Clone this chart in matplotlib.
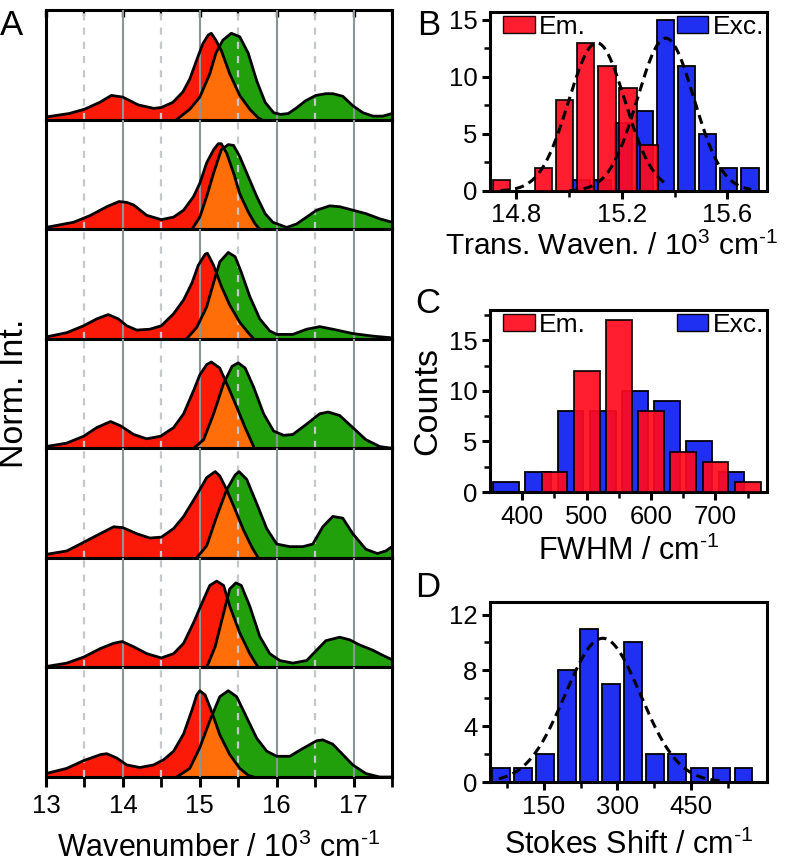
import numpy as np
import matplotlib
matplotlib.use("Agg")
import matplotlib.pyplot as plt
from matplotlib.patches import Polygon, Patch
from matplotlib.ticker import MultipleLocator, FixedLocator

plt.rcParams['font.family'] = ['Liberation Sans', 'DejaVu Sans']
plt.rcParams['mathtext.fontset'] = 'custom'
plt.rcParams['mathtext.rm'] = 'Liberation Sans'
plt.rcParams['mathtext.it'] = 'Liberation Sans:italic'

# ---- panel A: emission (red) and excitation (green) spectra, 7 molecules ----
em_x = [
    [13.0, 13.3, 13.5, 13.7, 13.85, 14.0, 14.2, 14.4, 14.5, 14.65, 14.78, 14.87, 14.96, 15.04, 15.11, 15.15, 15.21, 15.28, 15.39, 15.52, 15.65, 15.76, 15.8],
    [13.0, 13.36, 13.58, 13.79, 13.95, 14.05, 14.14, 14.31, 14.5, 14.66, 14.79, 14.92, 15.0, 15.09, 15.18, 15.24, 15.28, 15.35, 15.44, 15.52, 15.63, 15.72, 15.78],
    [13.0, 13.27, 13.49, 13.66, 13.81, 13.94, 14.05, 14.18, 14.35, 14.5, 14.66, 14.79, 14.9, 14.98, 15.07, 15.1, 15.18, 15.28, 15.39, 15.52, 15.63, 15.7],
    [13.0, 13.27, 13.49, 13.66, 13.84, 13.97, 14.14, 14.31, 14.49, 14.66, 14.79, 14.92, 15.0, 15.09, 15.15, 15.26, 15.37, 15.48, 15.59, 15.7],
    [13.0, 13.27, 13.49, 13.66, 13.88, 14.0, 14.18, 14.35, 14.5, 14.66, 14.79, 14.92, 15.0, 15.09, 15.2, 15.26, 15.35, 15.46, 15.57, 15.68, 15.76],
    [13.0, 13.27, 13.49, 13.71, 13.88, 13.99, 14.14, 14.31, 14.5, 14.66, 14.79, 14.92, 15.05, 15.13, 15.22, 15.31, 15.39, 15.52, 15.65, 15.76],
    [13.0, 13.27, 13.49, 13.71, 13.79, 13.92, 14.05, 14.22, 14.4, 14.53, 14.66, 14.79, 14.9, 14.96, 15.0, 15.07, 15.15, 15.26, 15.39, 15.52, 15.63, 15.7],
]
em_y = [
    [0.03, 0.07, 0.12, 0.2, 0.28, 0.26, 0.17, 0.13, 0.14, 0.2, 0.32, 0.47, 0.69, 0.88, 0.98, 1.0, 0.92, 0.8, 0.53, 0.28, 0.12, 0.02, 0.0],
    [0.02, 0.08, 0.16, 0.26, 0.32, 0.31, 0.28, 0.16, 0.11, 0.14, 0.22, 0.38, 0.53, 0.77, 0.92, 0.99, 0.99, 0.88, 0.65, 0.41, 0.2, 0.06, 0.0],
    [0.02, 0.07, 0.15, 0.23, 0.28, 0.23, 0.15, 0.1, 0.11, 0.15, 0.29, 0.45, 0.65, 0.85, 0.98, 0.99, 0.85, 0.61, 0.39, 0.19, 0.07, 0.0],
    [0.02, 0.06, 0.14, 0.24, 0.31, 0.26, 0.16, 0.11, 0.14, 0.24, 0.4, 0.67, 0.85, 0.97, 1.0, 0.93, 0.71, 0.48, 0.24, 0.02],
    [0.04, 0.08, 0.18, 0.26, 0.36, 0.35, 0.28, 0.23, 0.24, 0.34, 0.48, 0.67, 0.79, 0.93, 1.0, 0.95, 0.79, 0.56, 0.32, 0.12, 0.0],
    [0.01, 0.05, 0.12, 0.22, 0.28, 0.3, 0.24, 0.16, 0.11, 0.16, 0.28, 0.52, 0.79, 0.95, 1.0, 0.95, 0.71, 0.4, 0.16, 0.0],
    [0.04, 0.1, 0.19, 0.26, 0.27, 0.22, 0.14, 0.11, 0.14, 0.2, 0.3, 0.5, 0.78, 0.95, 1.0, 0.95, 0.77, 0.49, 0.26, 0.1, 0.02, 0.0],
]
ex_x = [
    [14.7, 14.87, 15.0, 15.13, 15.21, 15.3, 15.41, 15.52, 15.63, 15.74, 15.85, 15.96, 16.05, 16.15, 16.25, 16.38, 16.51, 16.64, 16.73, 16.86, 16.99, 17.12, 17.25, 17.38, 17.5],
    [14.9, 15.0, 15.09, 15.18, 15.28, 15.37, 15.44, 15.52, 15.63, 15.74, 15.85, 15.95, 16.13, 16.26, 16.39, 16.52, 16.69, 16.82, 16.99, 17.16, 17.34, 17.5],
    [14.83, 14.96, 15.09, 15.18, 15.26, 15.37, 15.46, 15.54, 15.65, 15.78, 15.91, 16.0, 16.21, 16.39, 16.56, 16.73, 16.99, 17.25, 17.5],
    [14.92, 15.05, 15.18, 15.31, 15.42, 15.5, 15.59, 15.7, 15.83, 15.96, 16.09, 16.21, 16.39, 16.56, 16.67, 16.82, 16.99, 17.16, 17.34, 17.5],
    [14.96, 15.09, 15.22, 15.35, 15.46, 15.51, 15.61, 15.74, 15.87, 16.0, 16.17, 16.34, 16.47, 16.6, 16.73, 16.86, 16.99, 17.16, 17.31, 17.42, 17.5],
    [15.09, 15.2, 15.31, 15.39, 15.47, 15.54, 15.65, 15.78, 15.91, 16.04, 16.21, 16.39, 16.52, 16.64, 16.82, 16.95, 17.08, 17.25, 17.38, 17.5],
    [14.7, 14.87, 15.0, 15.13, 15.26, 15.37, 15.48, 15.61, 15.74, 15.87, 16.0, 16.17, 16.34, 16.52, 16.6, 16.73, 16.86, 16.99, 17.16, 17.34, 17.5],
]
ex_y = [
    [0.0, 0.12, 0.26, 0.53, 0.77, 0.92, 1.0, 0.96, 0.77, 0.45, 0.2, 0.08, 0.06, 0.07, 0.13, 0.22, 0.28, 0.3, 0.3, 0.27, 0.16, 0.08, 0.04, 0.04, 0.07],
    [0.0, 0.14, 0.38, 0.65, 0.92, 0.98, 0.97, 0.84, 0.61, 0.38, 0.18, 0.08, 0.02, 0.06, 0.14, 0.22, 0.27, 0.26, 0.22, 0.18, 0.12, 0.08],
    [0.0, 0.13, 0.37, 0.65, 0.89, 1.0, 0.95, 0.77, 0.49, 0.23, 0.09, 0.05, 0.05, 0.11, 0.14, 0.11, 0.06, 0.03, 0.01],
    [0.0, 0.1, 0.4, 0.75, 0.95, 0.99, 0.93, 0.71, 0.4, 0.2, 0.15, 0.16, 0.28, 0.4, 0.42, 0.38, 0.24, 0.1, 0.02, 0.0],
    [0.0, 0.14, 0.48, 0.79, 0.96, 1.0, 0.91, 0.63, 0.34, 0.16, 0.13, 0.13, 0.16, 0.36, 0.48, 0.46, 0.28, 0.1, 0.05, 0.08, 0.13],
    [0.0, 0.24, 0.63, 0.91, 0.98, 0.95, 0.71, 0.36, 0.16, 0.08, 0.05, 0.08, 0.2, 0.31, 0.35, 0.32, 0.26, 0.2, 0.14, 0.09],
    [0.0, 0.1, 0.34, 0.65, 0.93, 1.0, 0.93, 0.69, 0.45, 0.3, 0.24, 0.24, 0.33, 0.42, 0.43, 0.38, 0.26, 0.14, 0.04, 0.0, 0.0],
]

# ---- panel B: transition wavenumber histograms (10^3 cm-1) ----
b_em_centers = [14.743, 14.823, 14.903, 14.983, 15.063, 15.143, 15.223, 15.303]
b_em_counts = [1, 0, 2, 8, 13, 11, 9, 4]
b_ex_centers = [15.045, 15.125, 15.205, 15.285, 15.365, 15.445, 15.525, 15.605, 15.685]
b_ex_counts = [1, 1, 6, 7, 15, 11, 5, 2, 2]
b_em_fit = (13.0, 15.105, 0.107)   # amplitude, centre, sigma
b_ex_fit = (13.4, 15.366, 0.107)
b_em_fit_range = (14.74, 15.37)
b_ex_fit_range = (15.0, 15.69)

# ---- panel C: FWHM histograms (cm-1) ----
c_em_centers = [450, 500, 550, 600, 650, 700, 750]
c_em_counts = [2, 12, 17, 8, 4, 3, 1]
c_ex_centers = [375, 425, 475, 525, 575, 625, 675, 725]
c_ex_counts = [1, 2, 8, 8, 10, 9, 5, 2]

# ---- panel D: Stokes shift histogram (cm-1) ----
d_centers = [62, 107, 152, 197, 242, 287, 332, 377, 422, 467, 512, 557]
d_counts = [1, 1, 2, 8, 11, 7, 10, 2, 2, 1, 1, 1]
d_fit = (10.3, 270, 77)
d_fit_range = (58, 515)

RED = '#fb1a08'
GREEN = '#22a00c'
ORANGE = '#ff6e08'
BAR_RED = '#ff0a1e'
BAR_BLUE = '#1f30f2'
RED_ALPHA = 0.92
TICK_FS = 18.5
LABEL_FS = 22
YLABEL_FS = 24.5
HY = '\u2010'  # short hyphen used as the minus in the unit exponents

W, H = 793, 868
fig = plt.figure(figsize=(W / 100, H / 100), dpi=100)


def rect(x0, y0, x1, y1):
    # pixel box (top-left origin) -> figure fraction
    return [x0 / W, 1 - y1 / H, (x1 - x0) / W, (y1 - y0) / H]


# panel A
a_top, a_bot = 10, 777
ph = (a_bot - a_top) / 7
axes_a = []
for i in range(7):
    ax = fig.add_axes(rect(46, a_top + i * ph, 392, a_top + (i + 1) * ph))
    axes_a.append(ax)
    xe, ye = np.array(em_x[i]), np.array(em_y[i])
    xg, yg = np.array(ex_x[i]), np.array(ex_y[i])
    ax.fill_between(xe, ye, 0, color=RED, lw=0, zorder=1)
    ax.fill_between(xg, yg, 0, color=GREEN, lw=0, zorder=1)
    # overlap region: emission area clipped by excitation area
    clip = Polygon(np.column_stack([np.r_[xg[0], xg, xg[-1]], np.r_[0, yg, 0]]),
                   closed=True, transform=ax.transData)
    ov = ax.fill_between(xe, ye, 0, color=ORANGE, lw=0, zorder=2)
    ov.set_clip_path(clip)
    for v in [14, 15, 16, 17]:
        ax.axvline(v, color='#8c9595', lw=1.5, zorder=3)
    for v in [13.5, 14.5, 15.5, 16.5]:
        ax.axvline(v, color='#c4c8cc', lw=1.6, ls=(0, (3.2, 3.2)), zorder=3)
    ax.plot(xe, ye, color='k', lw=2.0, zorder=4, solid_joinstyle='round')
    ax.plot(xg, yg, color='k', lw=2.0, zorder=4, solid_joinstyle='round')
    ax.set_xlim(13, 17.5)
    ax.set_ylim(0, 1.27)
    ax.set_yticks([])
    ax.xaxis.set_major_locator(MultipleLocator(1))
    ax.xaxis.set_minor_locator(MultipleLocator(0.5))
    for s in ax.spines.values():
        s.set_linewidth(2.2)
    if i == 0:
        ax.tick_params(axis='x', which='both', direction='in', top=True, bottom=False,
                       labelbottom=False)
        ax.tick_params(axis='x', which='major', length=5, width=2.4)
        ax.tick_params(axis='x', which='minor', length=4, width=1.6)
    elif i == 6:
        ax.tick_params(axis='x', which='both', direction='out', labelsize=TICK_FS)
        ax.tick_params(axis='x', which='major', length=7, width=2.2, pad=5)
        ax.tick_params(axis='x', which='minor', length=7, width=2.0)
        ax.set_xlabel('Wavenumber / 10$^3$ cm$^{' + HY + '1}$', fontsize=LABEL_FS, labelpad=11)
    else:
        ax.tick_params(axis='x', which='both', bottom=False, labelbottom=False)

fig.text(15 / W, 1 - 393 / H, 'Norm. Int.', rotation=90, fontsize=YLABEL_FS,
         ha='center', va='center')
fig.text(0 / W, 1 - 35 / H, 'A', fontsize=25, ha='left', va='baseline')


def gauss_curve(ax, fit, xr):
    amp, mu, sig = fit
    xs = np.linspace(xr[0], xr[1], 200)
    ax.plot(xs, amp * np.exp(-(xs - mu) ** 2 / (2 * sig ** 2)), color='k', lw=2.2,
            ls=(0, (3.0, 1.8)), zorder=5)


def style_hist(ax):
    for s in ax.spines.values():
        s.set_linewidth(2.2)
    ax.tick_params(axis='both', which='both', direction='out', labelsize=TICK_FS,
                   top=False, right=False, pad=3)
    ax.tick_params(axis='both', which='major', length=6, width=2.2)
    ax.tick_params(axis='both', which='minor', length=4, width=1.8)


def two_legends(ax):
    h1 = [Patch(facecolor=BAR_RED, edgecolor='k', alpha=RED_ALPHA, label='Em.')]
    h2 = [Patch(facecolor=BAR_BLUE, edgecolor='k', label='Exc.')]
    kw = dict(frameon=False, fontsize=19, handlelength=1.2, handleheight=0.6,
              handletextpad=0.15, borderaxespad=0.0, borderpad=0.12)
    leg1 = ax.legend(handles=h1, loc='upper left', bbox_to_anchor=(0.035, 1.0), **kw)
    ax.add_artist(leg1)
    ax.legend(handles=h2, loc='upper right', bbox_to_anchor=(1.0, 1.0), **kw)


# panel B
axb = fig.add_axes(rect(490, 12, 767, 191))
axb.bar(b_ex_centers, b_ex_counts, width=0.066, color=BAR_BLUE, edgecolor='k', lw=1.3, zorder=2)
axb.bar(b_em_centers, b_em_counts, width=0.066, color=BAR_RED, edgecolor='k', lw=1.3,
        alpha=RED_ALPHA, zorder=3)
gauss_curve(axb, b_em_fit, b_em_fit_range)
gauss_curve(axb, b_ex_fit, b_ex_fit_range)
axb.set_xlim(14.7, 15.75)
axb.set_ylim(0, 15.7)
axb.xaxis.set_major_locator(FixedLocator([14.8, 15.2, 15.6]))
axb.xaxis.set_minor_locator(FixedLocator([15.0, 15.4]))
axb.yaxis.set_major_locator(MultipleLocator(5))
axb.yaxis.set_minor_locator(MultipleLocator(2.5))
style_hist(axb)
two_legends(axb)
axb.set_xlabel('Trans. Waven. / 10$^3$ cm$^{' + HY + '1}$', fontsize=21.5, labelpad=0)
axb.xaxis.set_label_coords(0.44, -0.23)
fig.text(417 / W, 1 - 35 / H, 'B', fontsize=25, ha='left', va='baseline')

# panel C
axc = fig.add_axes(rect(490, 310, 767, 492))
axc.bar(c_ex_centers, c_ex_counts, width=40, color=BAR_BLUE, edgecolor='k', lw=1.3, zorder=2)
axc.bar(c_em_centers, c_em_counts, width=40, color=BAR_RED, edgecolor='k', lw=1.3,
        alpha=RED_ALPHA, zorder=3)
axc.set_xlim(350, 780)
axc.set_ylim(0, 18)
axc.xaxis.set_major_locator(FixedLocator([400, 500, 600, 700]))
axc.xaxis.set_minor_locator(FixedLocator([450, 550, 650, 750]))
axc.yaxis.set_major_locator(MultipleLocator(5))
axc.yaxis.set_minor_locator(MultipleLocator(2.5))
style_hist(axc)
two_legends(axc)
axc.set_xlabel('FWHM / cm$^{' + HY + '1}$', fontsize=LABEL_FS, labelpad=5)
axc.set_ylabel('Counts', fontsize=YLABEL_FS, labelpad=4)
fig.text(415 / W, 1 - 313 / H, 'C', fontsize=25, ha='left', va='baseline')

# panel D
axd = fig.add_axes(rect(490, 602, 767, 782))
axd.bar(d_centers, d_counts, width=36, color=BAR_BLUE, edgecolor='k', lw=1.3, zorder=2)
gauss_curve(axd, d_fit, d_fit_range)
axd.set_xlim(40, 605)
axd.set_ylim(0, 12.9)
axd.xaxis.set_major_locator(FixedLocator([150, 300, 450]))
axd.xaxis.set_minor_locator(FixedLocator([75, 225, 375, 525]))
axd.yaxis.set_major_locator(MultipleLocator(4))
axd.yaxis.set_minor_locator(MultipleLocator(2))
style_hist(axd)
axd.set_xlabel('Stokes Shift / cm$^{' + HY + '1}$', fontsize=LABEL_FS, labelpad=8)
fig.text(415 / W, 1 - 597 / H, 'D', fontsize=25, ha='left', va='baseline')

fig.savefig('out.png', dpi=100)
